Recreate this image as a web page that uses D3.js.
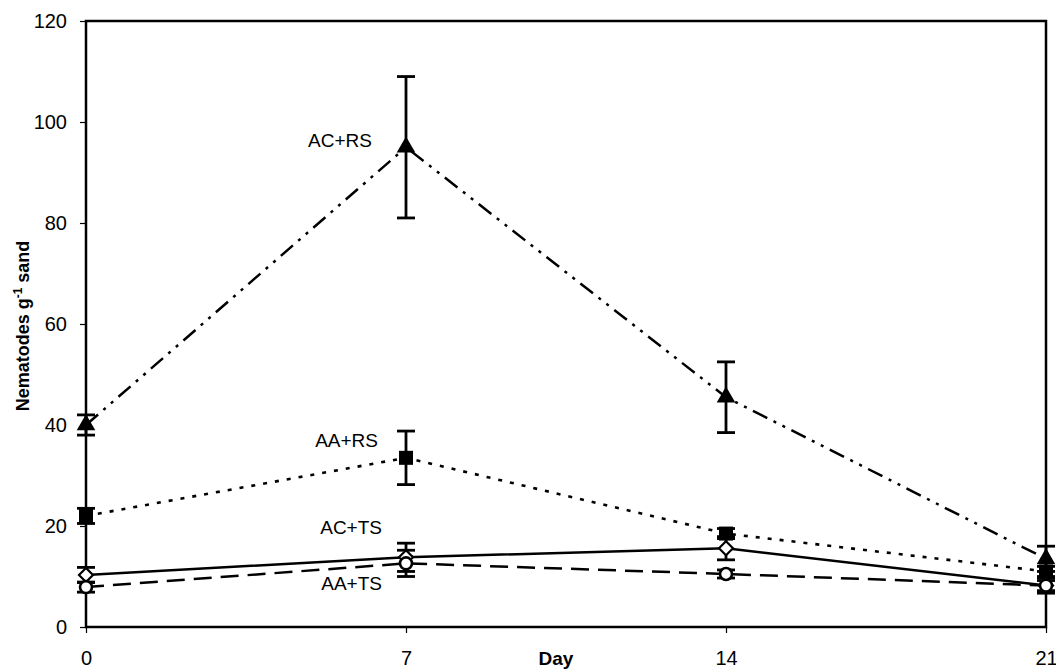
<!DOCTYPE html>
<html><head><meta charset="utf-8">
<script src="https://cdn.jsdelivr.net/npm/d3@7"></script>
<style>body{margin:0;background:#fff}svg{display:block}</style>
</head><body><svg id="c" width="1056" height="672"></svg>
<script>
const days = [0, 7, 14, 21];
const yTicks = [0, 20, 40, 60, 80, 100, 120];
const seriesNames = ["AC+RS", "AA+RS", "AC+TS", "AA+TS"];
const acrsVals = [40, 95, 45.5, 13.5];
const acrsErr = [2, 14, 7, 2.5];
const aarsVals = [22, 33.5, 18.5, 11];
const aarsErr = [1.5, 5.3, 1, 1];
const actsVals = [10.3, 13.8, 15.6, 8.2];
const actsErr = [1.5, 2.8, 2.3, 1];
const aatsVals = [7.9, 12.6, 10.5, 8.2];
const aatsErr = [1, 2.6, 0.8, 1.5];

const svg = d3.select("#c");
const x = d3.scaleLinear().domain([0, 21]).range([86, 1046]);
const y = d3.scaleLinear().domain([0, 120]).range([627, 21]);

const font = "'Liberation Sans', Arial, sans-serif";

// frame
svg.append("rect").attr("x", x(0)).attr("y", y(120)).attr("width", x(21) - x(0)).attr("height", y(0) - y(120))
  .attr("fill", "none").attr("stroke", "#000").attr("stroke-width", 2.5);

// axes
const yAxis = svg.append("g").attr("transform", `translate(${x(0)},0)`)
  .call(d3.axisLeft(y).tickValues(yTicks).tickSize(6).tickPadding(13).tickFormat(d3.format("d")));
const xAxis = svg.append("g").attr("transform", `translate(0,${y(0)})`)
  .call(d3.axisBottom(x).tickValues(days).tickSize(6).tickPadding(18).tickFormat(d3.format("d")));
[yAxis, xAxis].forEach(a => {
  a.select(".domain").remove();
  a.selectAll("line").attr("stroke", "#000").attr("stroke-width", 1.2);
  a.selectAll("text").attr("font-family", font).attr("font-size", 20).attr("fill", "#000");
});

// axis titles
svg.append("text").attr("x", 556).attr("y", 665).attr("text-anchor", "middle")
  .attr("font-family", font).attr("font-size", 19).attr("font-weight", "bold").text("Day");
const yt = svg.append("text").attr("transform", "translate(29,326) rotate(-90)").attr("text-anchor", "middle")
  .attr("font-family", font).attr("font-size", 18).attr("font-weight", "bold");
yt.append("tspan").text("Nematodes g");
yt.append("tspan").attr("dy", -7).attr("font-size", 12).text("-1");
yt.append("tspan").attr("dy", 7).text(" sand");

const series = [
  {name: seriesNames[0], vals: acrsVals, err: acrsErr, dash: "16,7,3,7,3,7", marker: "tri", lw: 2.5},
  {name: seriesNames[1], vals: aarsVals, err: aarsErr, dash: "4,8", marker: "sq", lw: 2.6},
  {name: seriesNames[2], vals: actsVals, err: actsErr, dash: null, marker: "dia", lw: 2.5},
  {name: seriesNames[3], vals: aatsVals, err: aatsErr, dash: "18,9", marker: "circ", lw: 2.5}
];

const line = d3.line().x((d, i) => x(days[i])).y(d => y(d));

series.forEach(s => {
  svg.append("path").datum(s.vals).attr("d", line).attr("fill", "none").attr("stroke", "#000")
    .attr("stroke-width", s.lw).attr("stroke-dasharray", s.dash);
});

// error bars
series.forEach(s => {
  const g = svg.append("g").attr("stroke", "#000").attr("stroke-width", 2.8);
  s.vals.forEach((v, i) => {
    const cx = x(days[i]);
    g.append("line").attr("x1", cx).attr("x2", cx).attr("y1", y(v + s.err[i])).attr("y2", y(v - s.err[i]));
    [v + s.err[i], v - s.err[i]].forEach(e => {
      g.append("line").attr("x1", cx - 9).attr("x2", cx + 9).attr("y1", y(e)).attr("y2", y(e));
    });
  });
});

// markers
series.forEach(s => {
  s.vals.forEach((v, i) => {
    const cx = x(days[i]), cy = y(v);
    if (s.marker === "tri") {
      svg.append("path").attr("d", d3.symbol(d3.symbolTriangle, 150)()).attr("transform", `translate(${cx},${cy})`).attr("fill", "#000");
    } else if (s.marker === "sq") {
      svg.append("rect").attr("x", cx - 7).attr("y", cy - 7).attr("width", 14).attr("height", 14).attr("fill", "#000");
    } else if (s.marker === "dia") {
      svg.append("path").attr("d", `M${cx},${cy - 7}L${cx + 7},${cy}L${cx},${cy + 7}L${cx - 7},${cy}Z`)
        .attr("fill", "#fff").attr("stroke", "#000").attr("stroke-width", 2.2);
    } else {
      svg.append("circle").attr("cx", cx).attr("cy", cy).attr("r", 6).attr("fill", "#fff").attr("stroke", "#000").attr("stroke-width", 2.6);
    }
  });
});

// series labels
const labelPos = [[372, 147], [378, 447], [382, 534], [382, 590]];
series.forEach((s, i) => {
  svg.append("text").attr("x", labelPos[i][0]).attr("y", labelPos[i][1]).attr("text-anchor", "end")
    .attr("font-family", font).attr("font-size", 19).text(s.name);
});
</script></body></html>
